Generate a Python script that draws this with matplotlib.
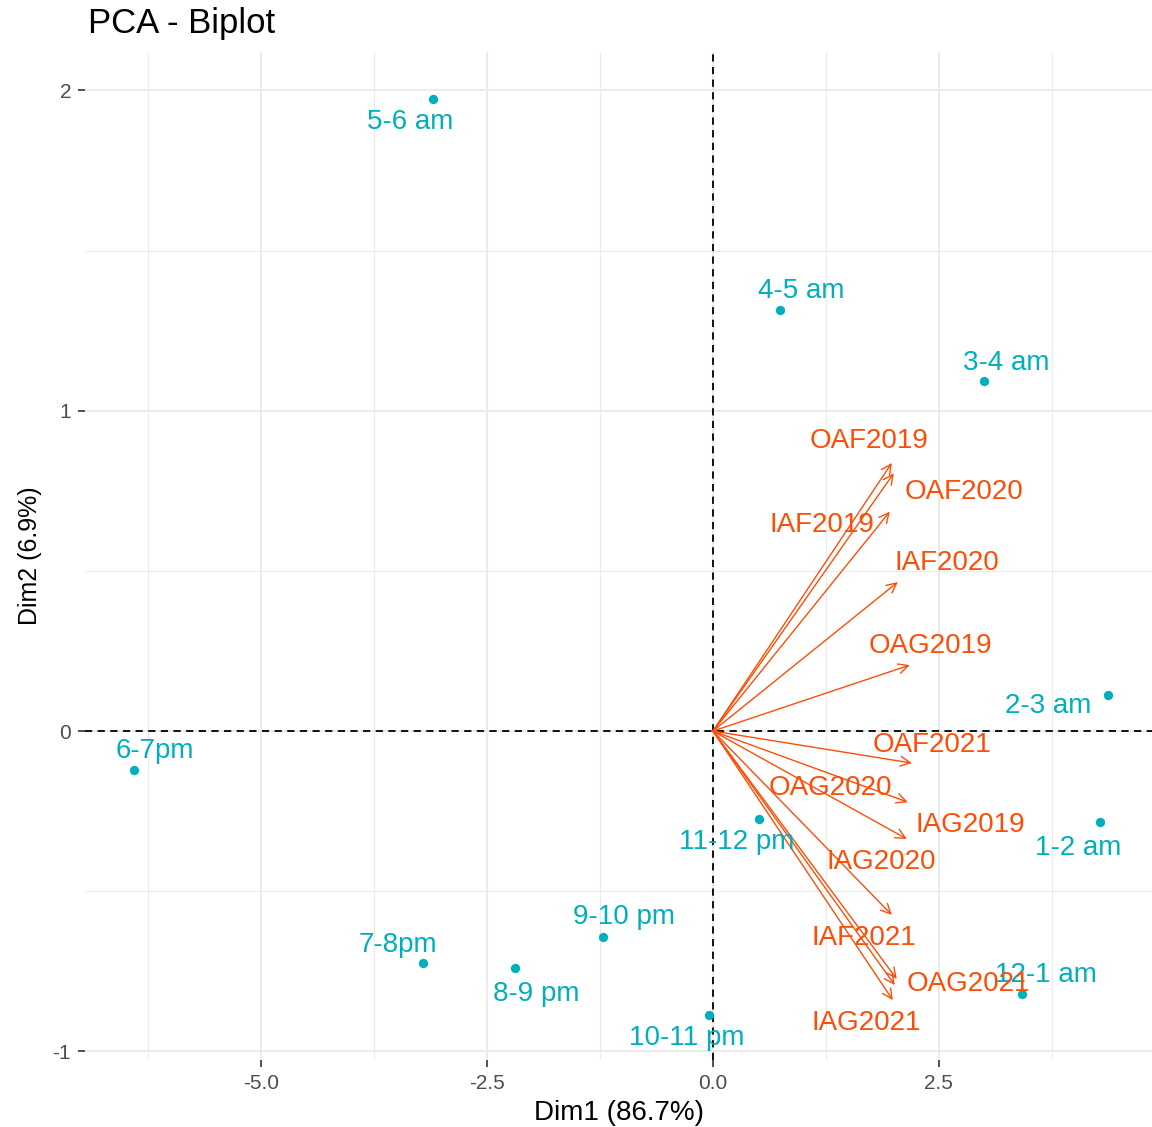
import matplotlib
matplotlib.use("Agg")
import matplotlib.pyplot as plt
import numpy as np

plt.rcParams["font.family"] = ["Liberation Sans", "DejaVu Sans"]

# Individuals (hours) on the first two principal components
hours = ["5-6 am", "4-5 am", "3-4 am", "2-3 am", "1-2 am", "12-1 am",
         "11-12 pm", "10-11 pm", "9-10 pm", "8-9 pm", "7-8pm", "6-7pm"]
hour_dim1 = [-3.097, 0.741, 2.998, 4.369, 4.281, 3.418,
             0.509, -0.044, -1.217, -2.190, -3.208, -6.405]
hour_dim2 = [1.973, 1.314, 1.093, 0.112, -0.284, -0.821,
             -0.275, -0.887, -0.643, -0.740, -0.724, -0.122]

# Variables (scaled loadings)
variables = ["OAF2019", "OAF2020", "IAF2019", "IAF2020", "OAG2019", "OAF2021",
             "OAG2020", "IAG2019", "IAG2020", "IAF2021", "OAG2021", "IAG2021"]
var_dim1 = [1.980, 2.002, 1.958, 2.046, 2.179, 2.201,
            2.157, 2.146, 1.980, 2.013, 2.035, 1.991]
var_dim2 = [0.837, 0.805, 0.685, 0.465, 0.206, -0.100,
            -0.222, -0.337, -0.574, -0.793, -0.774, -0.840]

x_ticks = [-5.0, -2.5, 0.0, 2.5]
x_tick_labels = ["-5.0", "-2.5", "0.0", "2.5"]
y_ticks = [-1, 0, 1, 2]
y_tick_labels = ["-1", "0", "1", "2"]

# Repelled label offsets in pixels (dx right, dy up)
hour_offsets = [(-23, -23), (21, 19), (22, 18), (-59, -11), (-22, -26), (24, 19),
                (-22, -23), (-22, -23), (21, 20), (21, -26), (-25, 18), (21, 19)]
var_offsets = [(-23, 22), (70, -19), (-68, -13), (49, 19), (21, 19), (20, 18),
               (-77, 14), (64, 14), (-11, 53), (-31, 47), (72, -5), (-27, -23)]

IND_COL = "#00AFBB"
VAR_COL = "#FC4E07"
W, H = 1152, 1127

fig = plt.figure(figsize=(W / 100, H / 100), dpi=100)
ax = fig.add_axes([85 / W, 1 - 1060 / H, (W - 85) / W, (1060 - 52) / H])
ax.set_xlim(-6.95, 4.86)
ax.set_ylim(-1.027, 2.120)

# grid (major and minor)
for v in [-6.25, -3.75, -1.25, 1.25, 3.75]:
    ax.axvline(v, color="#EBEBEB", lw=0.8, zorder=0)
for v in [-0.5, 0.5, 1.5]:
    ax.axhline(v, color="#EBEBEB", lw=0.8, zorder=0)
for v in x_ticks:
    ax.axvline(v, color="#EBEBEB", lw=1.5, zorder=0)
for v in y_ticks:
    ax.axhline(v, color="#EBEBEB", lw=1.5, zorder=0)

ax.axvline(0, color="black", lw=1.3, ls=(0, (4, 3)), zorder=1)
ax.axhline(0, color="black", lw=1.3, ls=(0, (4, 3)), zorder=1)

for s in ax.spines.values():
    s.set_visible(False)

ax.set_xticks(x_ticks)
ax.set_xticklabels(x_tick_labels)
ax.set_yticks(y_ticks)
ax.set_yticklabels(y_tick_labels)
ax.tick_params(axis="both", length=5, width=1.2, color="#333333",
               labelcolor="#4D4D4D", labelsize=15, pad=5)

# individuals
ax.scatter(hour_dim1, hour_dim2, s=45, color=IND_COL, zorder=3, linewidths=0)
for name, x, y, (dx, dy) in zip(hours, hour_dim1, hour_dim2, hour_offsets):
    ax.annotate(name, (x, y), xytext=(dx, dy), textcoords="offset pixels",
                ha="center", va="center", color=IND_COL, fontsize=20, zorder=4)

# variable arrows
for name, x, y, (dx, dy) in zip(variables, var_dim1, var_dim2, var_offsets):
    ax.annotate("", xy=(x, y), xytext=(0, 0),
                arrowprops=dict(arrowstyle="->,head_length=0.7,head_width=0.35",
                                color=VAR_COL, lw=1.0, shrinkA=0, shrinkB=0),
                zorder=2)
    ax.annotate(name, (x, y), xytext=(dx, dy), textcoords="offset pixels",
                ha="center", va="center", color=VAR_COL, fontsize=20, zorder=4)

ax.set_xlabel("Dim1 (86.7%)", fontsize=20, color="black", labelpad=5)
ax.set_ylabel("Dim2 (6.9%)", fontsize=18, color="black", labelpad=8)

fig.text(88 / W, 1 - 23 / H, "PCA - Biplot", fontsize=25, color="black",
         ha="left", va="center")

fig.savefig("out.png", dpi=100)
